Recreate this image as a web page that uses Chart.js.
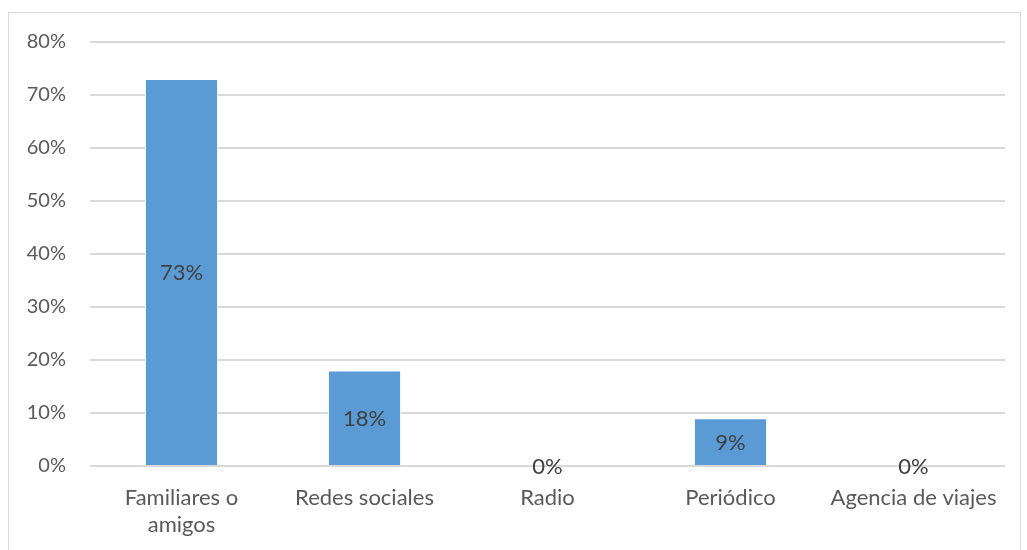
<!DOCTYPE html>
<html>
<head>
<meta charset="utf-8">
<script src="https://cdn.jsdelivr.net/npm/chart.js@4"></script>
<style>
  html, body { margin: 0; padding: 0; background: #fff; overflow: hidden; }
  #frame { position: absolute; left: 8px; top: 12px; width: 1013px; height: 560px; border: 1px solid #d9d9d9; box-sizing: border-box; }
  #wrap { position: absolute; left: 0; top: 0; width: 1027px; height: 550px; }
</style>
</head>
<body>
<div id="frame"></div>
<div id="wrap"><canvas id="c"></canvas></div>
<script>
  /* categories and values (%) */
  var categories = [['Familiares o', 'amigos'], 'Redes sociales', 'Radio', 'Periódico', 'Agencia de viajes'];
  var shares = [73, 18, 0, 9, 0];
  var yTicks = [0, 10, 20, 30, 40, 50, 60, 70, 80];

  var FONT = 'Lato, "Open Sans", sans-serif';
  var GREY = '#595959';

  /* value labels in the middle of each bar */
  var barLabels = {
    id: 'barLabels',
    afterDatasetsDraw: function (chart) {
      var ctx = chart.ctx;
      var meta = chart.getDatasetMeta(0);
      ctx.save();
      ctx.font = '22px ' + FONT;
      ctx.fillStyle = '#404040';
      ctx.textAlign = 'center';
      ctx.textBaseline = 'middle';
      meta.data.forEach(function (bar, i) {
        var p = bar.getProps(['x', 'y', 'base'], true);
        ctx.fillText(shares[i] + '%', p.x, (p.y + p.base) / 2 + 1);
      });
      ctx.restore();
    }
  };

  new Chart(document.getElementById('c'), {
    type: 'bar',
    data: {
      labels: categories,
      datasets: [{
        data: shares,
        backgroundColor: '#5b9bd5',
        borderColor: '#ffffff',
        borderWidth: 1,
        categoryPercentage: 0.4,
        barPercentage: 1
      }]
    },
    options: {
      responsive: true,
      maintainAspectRatio: false,
      animation: false,
      layout: { padding: { left: 0, right: 22, top: 42, bottom: 0 } },
      plugins: { legend: { display: false }, tooltip: { enabled: false } },
      scales: {
        x: {
          grid: { display: false },
          border: { display: false },
          ticks: { color: GREY, font: { family: FONT, size: 22, lineHeight: 1.2 }, padding: 11, maxRotation: 0, autoSkip: false },
          afterFit: function (s) { s.height = 84; }
        },
        y: {
          min: 0, max: 80,
          afterBuildTicks: function (s) { s.ticks = yTicks.map(function (v) { return { value: v }; }); },
          grid: { color: '#d9d9d9', lineWidth: 2, drawTicks: false },
          border: { display: false },
          ticks: {
            color: GREY, font: { family: FONT, size: 20 }, padding: 24,
            callback: function (v) { return v + '%'; }
          },
          afterFit: function (s) { s.width = 90; }
        }
      }
    },
    plugins: [barLabels]
  });
</script>
</body>
</html>
